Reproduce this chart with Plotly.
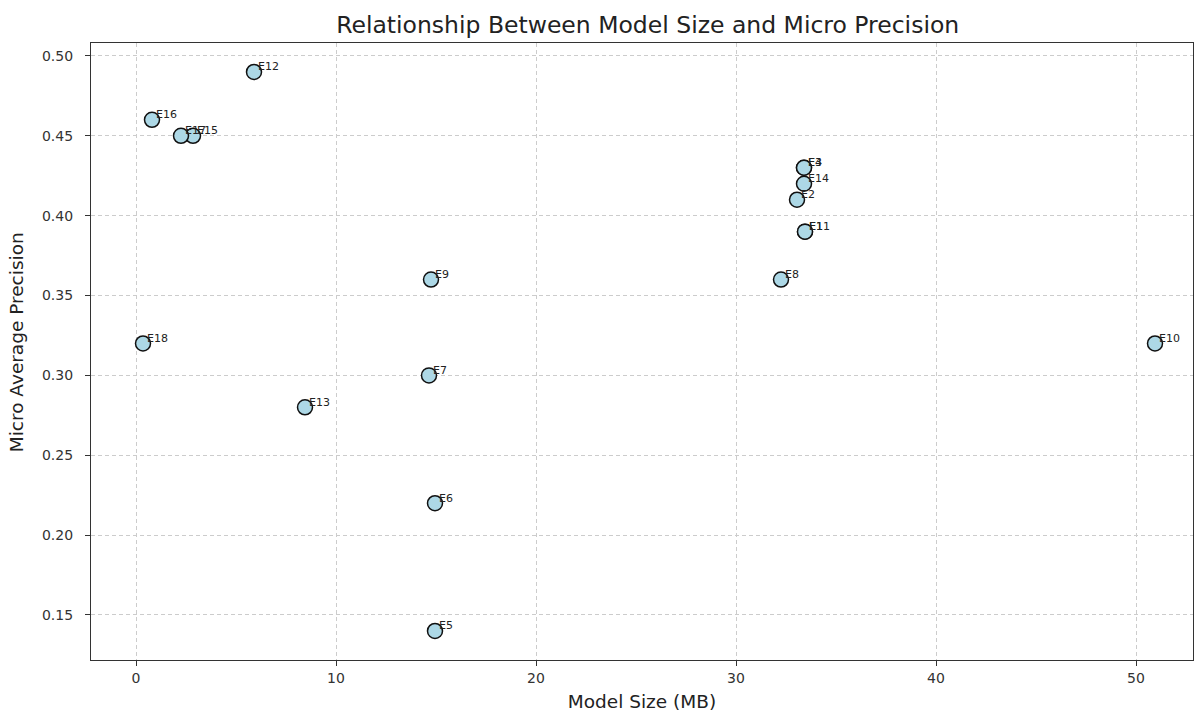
import plotly.graph_objects as go

labels = ["E1", "E2", "E3", "E4", "E5", "E6", "E7", "E8", "E9", "E10",
          "E11", "E12", "E13", "E14", "E15", "E16", "E17", "E18"]
model_size = [33.45, 33.05, 33.4, 33.4, 14.95, 14.95, 14.65, 32.25, 14.75, 50.95,
              33.45, 5.9, 8.45, 33.4, 2.85, 0.8, 2.25, 0.35]
precision = [0.39, 0.41, 0.43, 0.43, 0.14, 0.22, 0.30, 0.36, 0.36, 0.32,
             0.39, 0.49, 0.28, 0.42, 0.45, 0.46, 0.45, 0.32]

x_ticks = [0, 10, 20, 30, 40, 50]
y_ticks = [0.15, 0.20, 0.25, 0.30, 0.35, 0.40, 0.45, 0.50]

fig = go.Figure()
fig.add_trace(go.Scatter(
    x=model_size, y=precision, mode="markers",
    marker=dict(size=15, color="#add8e6", line=dict(color="#111111", width=1.5)),
    hovertext=labels, showlegend=False,
))

for lab, xv, yv in zip(labels, model_size, precision):
    fig.add_annotation(x=xv, y=yv, text=lab, showarrow=False,
                       xanchor="left", yanchor="middle", xshift=2, yshift=5,
                       font=dict(size=11, color="#222222", family="DejaVu Sans"))

# y-axis title placed as a rotated annotation for precise positioning
fig.add_annotation(text="Micro Average Precision", xref="paper", yref="paper",
                   x=-0.068, y=0.515, xanchor="center", yanchor="middle",
                   textangle=-90, showarrow=False,
                   font=dict(size=18.5, color="#222222", family="DejaVu Sans"))

axis_common = dict(
    showline=True, linecolor="#333333", linewidth=1.3, mirror=True,
    ticks="outside", ticklen=5, tickcolor="#333333",
    showgrid=True, gridcolor="#cccccc", griddash="4px,3px", gridwidth=1,
    zeroline=False, tickfont=dict(size=14, color="#333333"),
)

fig.update_layout(
    width=1195, height=715,
    margin=dict(l=91, r=2, t=43, b=55),
    paper_bgcolor="white", plot_bgcolor="white",
    font=dict(family="DejaVu Sans", color="#222222"),
    title=dict(text="Relationship Between Model Size and Micro Precision",
               x=0.542, xanchor="center", y=0.965, yanchor="middle",
               font=dict(size=23.5, color="#222222")),
    xaxis=dict(range=[-2.25, 52.85], tickvals=x_ticks,
               title=dict(text="Model Size (MB)", font=dict(size=18.5), standoff=10),
               **axis_common),
    yaxis=dict(range=[0.1218, 0.5081], tickvals=y_ticks, tickformat=".2f",
               ticklabelstandoff=9, **axis_common),
)

fig.write_html("out.html")
